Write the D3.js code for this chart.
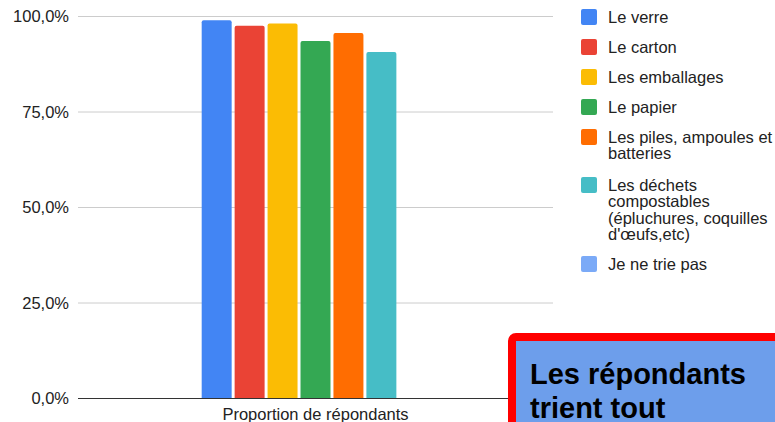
<!DOCTYPE html>
<html>
<head>
<meta charset="utf-8">
<title>Proportion de répondants</title>
<script src="https://cdn.jsdelivr.net/npm/d3@7"></script>
<style>
  body { margin: 0; background: #fff; }
  svg { display: block; font-family: "Liberation Sans", Arial, sans-serif; }
</style>
</head>
<body>
<svg id="chart" width="775" height="422"></svg>
<script>
// data
var categories = ['Le verre', 'Le carton', 'Les emballages', 'Le papier',
  'Les piles, ampoules et batteries',
  "Les déchets compostables (épluchures, coquilles d'œufs,etc)",
  'Je ne trie pas'];
var values = [0.99, 0.976, 0.982, 0.936, 0.957, 0.907, 0];
var colors = ['#4285f4', '#ea4335', '#fbbc04', '#34a853', '#ff6d01', '#46bdc6', '#7baaf7'];
var legendLines = [['Le verre'], ['Le carton'], ['Les emballages'], ['Le papier'],
  ['Les piles, ampoules et', 'batteries'],
  ['Les déchets', 'compostables', '(épluchures, coquilles', "d'œufs,etc)"],
  ['Je ne trie pas']];
var yTicks = [0, 0.25, 0.5, 0.75, 1];
var groupLabel = 'Proportion de répondants';

var svg = d3.select('#chart');
var plotLeft = 78, plotRight = 553, plotTop = 16.5, plotBottom = 398.5;

var y = d3.scaleLinear().domain([0, 1]).range([plotBottom, plotTop]);
var x0 = d3.scaleBand().domain([groupLabel]).range([plotLeft, plotRight]).paddingInner(0).paddingOuter(0.53);
var x1 = d3.scaleBand().domain(categories).range([x0(groupLabel), x0(groupLabel) + x0.bandwidth()])
  .paddingInner(0.09).paddingOuter(0.045);

var fmt = function (d) { return d3.format('.1f')(d * 100).replace('.', ',') + '%'; };

// gridlines
svg.append('g').selectAll('line')
  .data(yTicks.filter(function (d) { return d > 0; }))
  .enter().append('line')
  .attr('x1', plotLeft).attr('x2', plotRight)
  .attr('y1', function (d) { return y(d); })
  .attr('y2', function (d) { return y(d); })
  .attr('stroke', '#cccccc').attr('stroke-width', 1);

// y labels
svg.append('g').selectAll('text')
  .data(yTicks)
  .enter().append('text')
  .attr('x', 69)
  .attr('y', function (d) { return y(d) + 5.5; })
  .attr('text-anchor', 'end')
  .attr('font-size', 16.5)
  .attr('fill', '#222')
  .text(fmt);

// bars, rounded top corners
svg.append('g').selectAll('path')
  .data(values)
  .enter().append('path')
  .attr('fill', function (d, i) { return colors[i]; })
  .attr('d', function (d, i) {
    var bx = x1(categories[i]), bw = x1.bandwidth(), by = y(d), r = 2;
    if (plotBottom - by < r) return '';
    return 'M' + bx + ',' + plotBottom + 'V' + (by + r) + 'Q' + bx + ',' + by + ' ' + (bx + r) + ',' + by +
      'H' + (bx + bw - r) + 'Q' + (bx + bw) + ',' + by + ' ' + (bx + bw) + ',' + (by + r) + 'V' + plotBottom + 'Z';
  });

// baseline
svg.append('line')
  .attr('x1', plotLeft).attr('x2', plotRight)
  .attr('y1', y(0)).attr('y2', y(0))
  .attr('stroke', '#333').attr('stroke-width', 1);

svg.append('text')
  .attr('x', x0(groupLabel) + x0.bandwidth() / 2)
  .attr('y', 420)
  .attr('text-anchor', 'middle')
  .attr('font-size', 16.5)
  .attr('fill', '#222')
  .text(groupLabel);

// legend
var legendTop = [9, 39, 69, 99, 129, 177, 256];
var lg = svg.append('g').selectAll('g')
  .data(categories)
  .enter().append('g')
  .attr('transform', function (d, i) { return 'translate(581,' + legendTop[i] + ')'; });

lg.append('rect')
  .attr('width', 16).attr('height', 16).attr('rx', 2)
  .attr('fill', function (d, i) { return colors[i]; });

lg.append('text')
  .attr('font-size', 16.5)
  .attr('fill', '#222')
  .selectAll('tspan')
  .data(function (d, i) { return legendLines[i]; })
  .enter().append('tspan')
  .attr('x', 27)
  .attr('y', function (d, j) { return 13.5 + j * 16.5; })
  .text(function (d) { return d; });

// callout box
svg.append('rect')
  .attr('x', 512).attr('y', 337)
  .attr('width', 290).attr('height', 120)
  .attr('rx', 4)
  .attr('fill', '#6d9eeb')
  .attr('stroke', '#ff0000')
  .attr('stroke-width', 8);

svg.append('text')
  .attr('font-size', 29)
  .attr('font-weight', 'bold')
  .attr('fill', '#000')
  .selectAll('tspan')
  .data(['Les répondants', 'trient tout'])
  .enter().append('tspan')
  .attr('x', 530)
  .attr('y', function (d, i) { return 384 + i * 34; })
  .text(function (d) { return d; });
</script>
</body>
</html>
